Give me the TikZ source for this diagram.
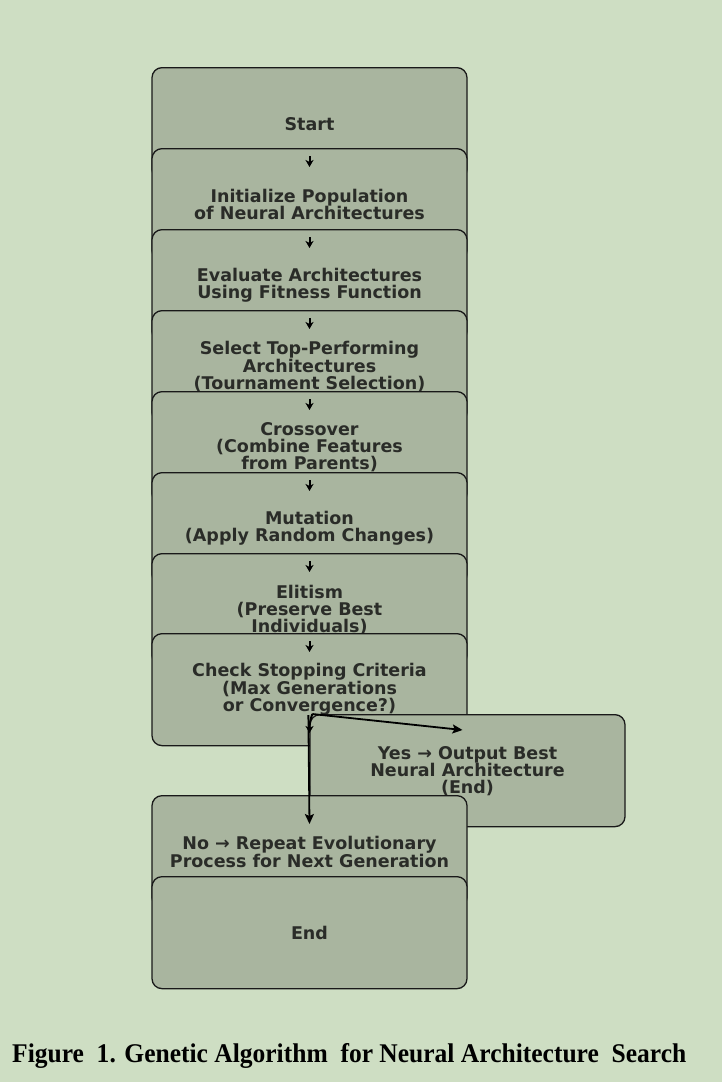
\documentclass[tikz,border=0pt]{standalone}
\usepackage{fontspec}
\usepackage{graphicx}
\setmainfont{DejaVu Sans}
\newfontfamily\capfont{Liberation Serif}
\usetikzlibrary{calc,arrows.meta}
\definecolor{bgcol}{HTML}{CEDEC3}
\definecolor{boxcol}{HTML}{A9B59F}
\definecolor{txtcol}{HTML}{2A2C28}
\tikzset{
  flowbox/.style={draw=black!90, line width=1.3pt, fill=boxcol, rounded corners=10pt,
    minimum width=315pt, minimum height=112pt, inner sep=0pt, anchor=north,
    align=center, text=txtcol, font=\fontsize{17.5pt}{17pt}\selectfont\bfseries},
  smallarr/.style={-{Stealth[length=7pt,width=8pt,inset=2pt]}, line width=2pt, black},
  bigarr/.style={-{Stealth[length=10pt,width=9pt,inset=2pt]}, line width=1.8pt, black}
}
\begin{document}
\begin{tikzpicture}[x=1pt,y=-1pt]
\fill[bgcol] (0,0) rectangle (722,1082);
\useasboundingbox (0,0) rectangle (722,1082);
\node[flowbox] (b1) at (309.5,67) {Start};
\node[flowbox] (b2) at (309.5,148) {Initialize Population\\of Neural Architectures};
\node[flowbox] (b3) at (309.5,229) {Evaluate Architectures\\Using Fitness Function};
\node[flowbox] (b4) at (309.5,310) {Select Top-Performing\\Architectures\\(Tournament Selection)};
\node[flowbox] (b5) at (309.5,391) {Crossover\\(Combine Features\\from Parents)};
\node[flowbox] (b6) at (309.5,472) {Mutation\\(Apply Random Changes)};
\node[flowbox] (b7) at (309.5,553) {Elitism\\(Preserve Best\\Individuals)};
\node[flowbox] (b8) at (309.5,633) {Check Stopping Criteria\\(Max Generations\\or Convergence?)};
\node[flowbox] (yes) at (467.5,714) {Yes → Output Best\\Neural Architecture\\(End)};
\node[flowbox] (no) at (309.5,795) {No → Repeat Evolutionary\\Process for Next Generation};
\node[flowbox] (end) at (309.5,876) {End};
% chain arrows
\foreach \a/\b in {b1/b2,b2/b3,b3/b4,b4/b5,b5/b6,b6/b7,b7/b8}{
  \draw[smallarr] ($(\b.north)+(0,8)$) -- ($(\b.north)+(0,19)$);
}
\coordinate (split) at ($(yes.north west)+(3,0)$);
\draw[bigarr] (split) -- ($(yes.north)+(-5,16)$);
\draw[smallarr] (split) to[out=250,in=90] ($(b8.north)+(0,100)$);
\draw[bigarr] ($(yes.north west)+(-1,1)$) -- ($(no.north)+(0,29)$);
\node[anchor=base west, inner sep=0pt, text=black] (cap) at (12,1062)
  {\resizebox{674pt}{\height}{\capfont\bfseries\fontsize{27pt}{30pt}\selectfont Figure\ \ 1. Genetic\ Algorithm\ \ for\ Neural\ Architecture\ \ Search}};
\end{tikzpicture}
\end{document}
